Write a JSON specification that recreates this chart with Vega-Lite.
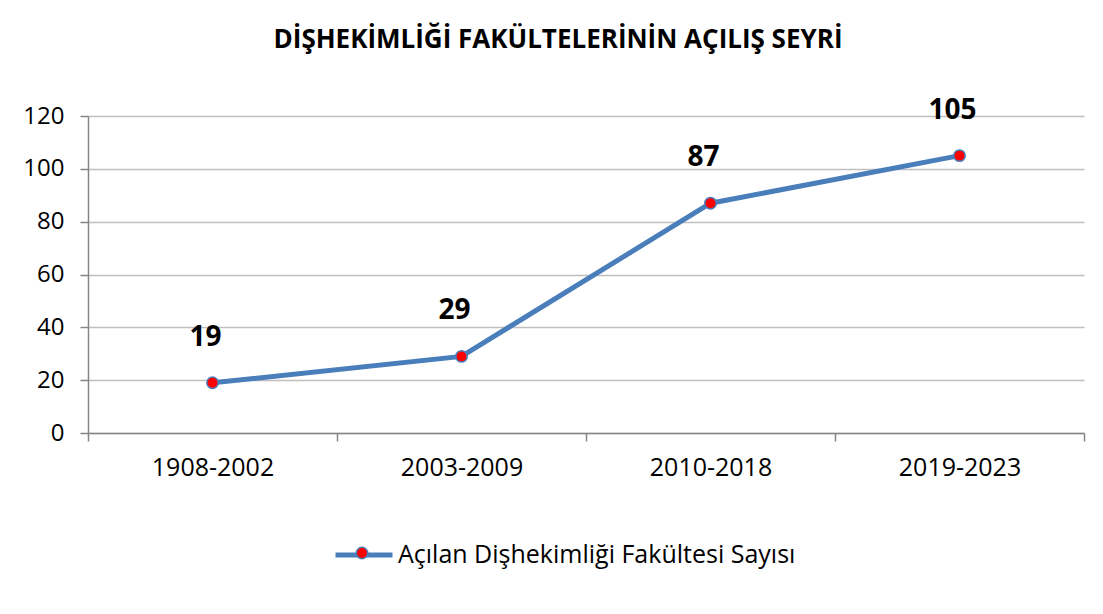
{
  "$schema": "https://vega.github.io/schema/vega-lite/v6.json",
  "width": 996,
  "height": 317,
  "autosize": {"type": "none"},
  "padding": {"left": 88, "top": 116, "right": 19, "bottom": 181},
  "background": "white",
  "title": {
    "text": "DİŞHEKİMLİĞİ FAKÜLTELERİNİN AÇILIŞ SEYRİ",
    "font": "Open Sans",
    "fontSize": 26,
    "fontWeight": "bold",
    "color": "#000000",
    "anchor": "middle",
    "dx": -28,
    "offset": 44
  },
  "data": {
    "values": [
      {"donem": "1908-2002", "sayi": 19, "seri": "Açılan Dişhekimliği Fakültesi Sayısı"},
      {"donem": "2003-2009", "sayi": 29, "seri": "Açılan Dişhekimliği Fakültesi Sayısı"},
      {"donem": "2010-2018", "sayi": 87, "seri": "Açılan Dişhekimliği Fakültesi Sayısı"},
      {"donem": "2019-2023", "sayi": 105, "seri": "Açılan Dişhekimliği Fakültesi Sayısı"}
    ]
  },
  "config": {
    "view": {"stroke": null},
    "axis": {
      "labelFont": "Open Sans",
      "labelColor": "#000000",
      "domainColor": "#868686",
      "tickColor": "#868686",
      "gridColor": "#BFBFBF",
      "domainWidth": 1.5,
      "tickWidth": 1.5,
      "tickSize": 8,
      "title": null
    }
  },
  "encoding": {
    "x": {
      "field": "donem",
      "type": "nominal",
      "sort": null,
      "scale": {"type": "band", "paddingInner": 0, "paddingOuter": 0},
      "axis": {
        "labelAngle": 0,
        "labelFontSize": 25,
        "labelPadding": 14,
        "tickBand": "extent",
        "grid": false,
        "title": null
      }
    },
    "y": {
      "field": "sayi",
      "type": "quantitative",
      "scale": {"domain": [0, 120], "nice": false, "zero": true},
      "axis": {
        "values": [0, 20, 40, 60, 80, 100, 120],
        "labelFontSize": 24,
        "labelPadding": 16,
        "grid": true,
        "gridWidth": 1.5,
        "title": null
      }
    }
  },
  "layer": [
    {
      "mark": {"type": "line", "strokeWidth": 5, "strokeCap": "round"},
      "encoding": {
        "stroke": {
          "field": "seri",
          "type": "nominal",
          "scale": {"range": ["#4A7EBB"]},
          "legend": {
            "orient": "none",
            "legendX": 245,
            "legendY": 408,
            "title": null,
            "symbolType": "stroke",
            "symbolSize": 3249,
            "symbolStrokeWidth": 5,
            "labelFont": "Open Sans",
            "labelFontSize": 25,
            "labelColor": "#000000",
            "labelOffset": 3,
            "labelLimit": 0,
            "padding": 0
          }
        }
      }
    },
    {
      "mark": {"type": "point", "filled": true, "size": 130, "stroke": "#4A7EBB", "strokeWidth": 1.5, "opacity": 1},
      "encoding": {
        "fill": {
          "field": "seri",
          "type": "nominal",
          "scale": {"range": ["#FF0000"]},
          "legend": {
            "orient": "none",
            "legendX": 262,
            "legendY": 425,
            "title": null,
            "symbolType": "circle",
            "symbolSize": 130,
            "symbolStrokeColor": "#4A7EBB",
            "symbolStrokeWidth": 1.5,
            "symbolOpacity": 1,
            "labelExpr": "''",
            "labelFontSize": 24,
            "padding": 0,
            "zindex": 1
          }
        }
      }
    },
    {
      "mark": {"type": "text", "font": "Open Sans", "fontSize": 28, "fontWeight": "bold", "color": "#000000", "dy": -45, "dx": -7},
      "encoding": {"text": {"field": "sayi", "type": "quantitative"}}
    }
  ]
}
